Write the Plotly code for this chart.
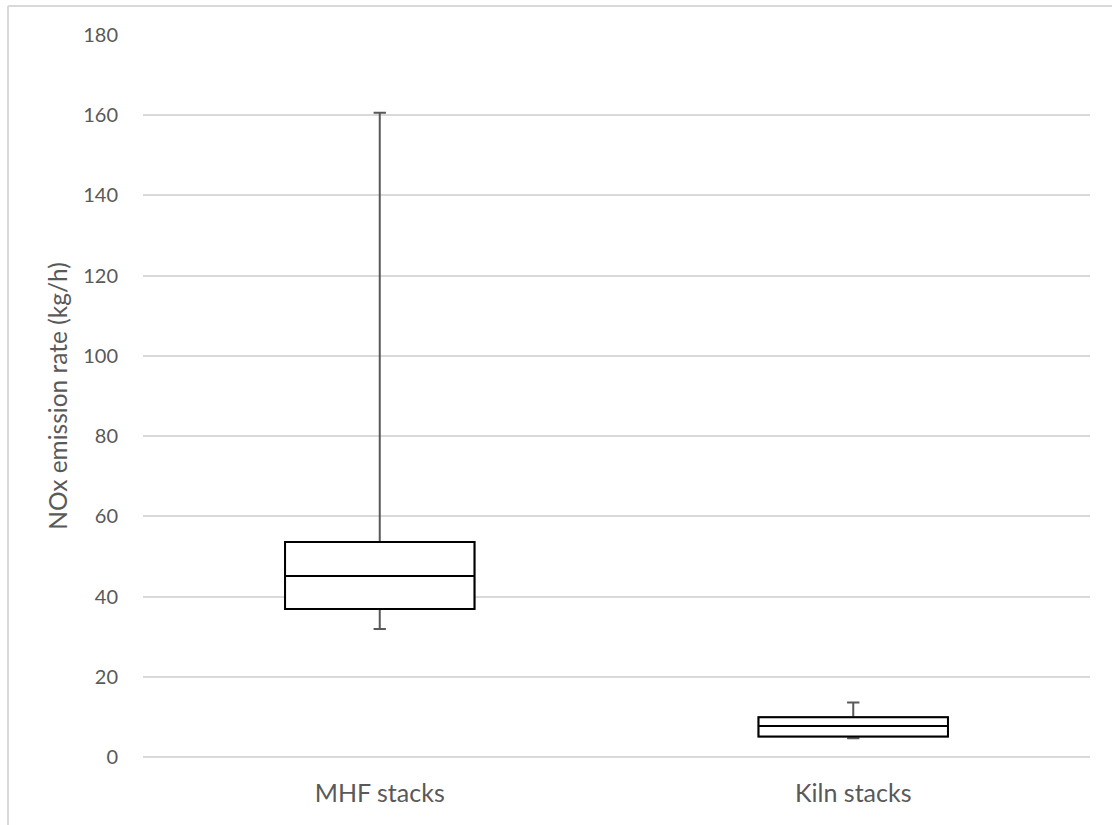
import plotly.graph_objects as go

# Summary statistics for NOx emission rates (kg/h)
categories = ["MHF stacks", "Kiln stacks"]
minimum = [31.9, 4.7]
q1 = [36.9, 5.1]
median = [45.1, 7.7]
q3 = [53.6, 9.9]
maximum = [160.6, 13.6]

y_ticks = [0, 20, 40, 60, 80, 100, 120, 140, 160, 180]

font_family = "Lato, 'Open Sans', sans-serif"
label_color = "#595959"
grid_color = "#d9d9d9"

fig = go.Figure()

# Whiskers (grey) drawn first, full range
fig.add_trace(go.Box(
    x=categories,
    q1=q1, median=median, q3=q3,
    lowerfence=minimum, upperfence=maximum,
    width=0.4,
    whiskerwidth=0.065,
    fillcolor="white",
    line=dict(color="#595959", width=2),
    hoverinfo="skip",
    showlegend=False,
))

# Box and median (black) on top
fig.add_trace(go.Box(
    x=categories,
    q1=q1, median=median, q3=q3,
    lowerfence=q1, upperfence=q3,
    width=0.4,
    whiskerwidth=0,
    fillcolor="white",
    line=dict(color="black", width=2),
    showlegend=False,
))

# Light chart-area border along the left and top edges
W, H = 1112, 825
L, R, T, B = 143, 22, 35, 68
pw, ph = W - L - R, H - T - B

def px_x(px):
    return (px - L) / pw

def px_y(py):
    return (H - B - py) / ph

fig.add_shape(type="line", xref="paper", yref="paper",
              x0=px_x(8), x1=px_x(8), y0=px_y(H), y1=px_y(6),
              line=dict(color=grid_color, width=2))
fig.add_shape(type="line", xref="paper", yref="paper",
              x0=px_x(8), x1=px_x(W), y0=px_y(6), y1=px_y(6),
              line=dict(color=grid_color, width=2))

fig.update_layout(
    width=W, height=H,
    margin=dict(l=L, r=R, t=T, b=B),
    paper_bgcolor="white",
    plot_bgcolor="white",
    boxmode="overlay",
    font=dict(family=font_family, color=label_color, size=20),
)

fig.update_xaxes(
    type="category",
    range=[-0.5, 1.5],
    showgrid=False,
    showline=False,
    ticks="",
    ticklabelstandoff=19,
    tickfont=dict(size=25, color=label_color),
)

fig.update_yaxes(
    range=[0, 180],
    tickvals=y_ticks,
    showgrid=True,
    gridcolor=grid_color,
    gridwidth=1.5,
    zeroline=True,
    zerolinecolor=grid_color,
    zerolinewidth=1.5,
    showline=False,
    ticks="",
    ticklabelstandoff=24,
    tickfont=dict(size=20, color=label_color),
    title=dict(text="NOx emission rate (kg/h)", font=dict(size=24.5, color=label_color), standoff=8),
)

fig.write_html("out.html")
